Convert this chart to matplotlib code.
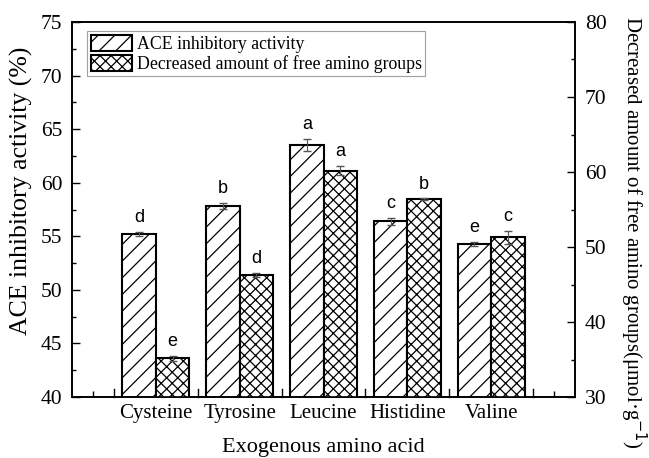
import numpy as np
import matplotlib.pyplot as plt
from matplotlib.ticker import MultipleLocator, FixedLocator

amino = ["Cysteine", "Tyrosine", "Leucine", "Histidine", "Valine"]
ace = [55.2, 57.85, 63.5, 56.4, 54.3]
ace_err = [0.2, 0.3, 0.55, 0.3, 0.2]
ace_letters = ["d", "b", "a", "c", "e"]
free_amino = [35.15, 46.25, 60.2, 56.4, 51.3]
free_err = [0.35, 0.3, 0.65, 0.1, 0.9]
free_letters = ["e", "d", "a", "b", "c"]

plt.rcParams["font.family"] = "Liberation Serif"
plt.rcParams["hatch.linewidth"] = 0.9

fig = plt.figure(figsize=(6.49, 4.58), dpi=100)
ax = fig.add_axes([0.111, 0.133, 0.775, 0.819])
ax2 = ax.twinx()

x = np.arange(1, len(amino) + 1)
w = 0.4
ekw = dict(ecolor="#555555", elinewidth=0.8, capsize=3)
b1 = ax.bar(x - w / 2, ace, w, yerr=ace_err, color="white", edgecolor="black",
            linewidth=1.5, hatch="//", error_kw=ekw, zorder=2)
b2 = ax2.bar(x + w / 2, free_amino, w, yerr=free_err, color="white", edgecolor="black",
             linewidth=1.5, hatch="xxx", error_kw=ekw, zorder=2)

for xi, v, e, t in zip(x, ace, ace_err, ace_letters):
    ax.text(xi - w / 2, v + e + 0.55, t, ha="center", va="bottom", fontsize=13,
            family="Liberation Sans")
for xi, v, e, t in zip(x, free_amino, free_err, free_letters):
    ax2.text(xi + w / 2, v + e + 0.75, t, ha="center", va="bottom", fontsize=13,
             family="Liberation Sans")

ax.set_xlim(0, 6)
ax.set_ylim(40, 75)
ax2.set_ylim(30, 80)
ax.set_xticks(x)
ax.set_xticklabels(amino)
ax.xaxis.set_minor_locator(FixedLocator([v for v in np.arange(0.25, 6.0, 0.25) if v % 1 != 0.5]))
ax.yaxis.set_major_locator(MultipleLocator(5))
ax.yaxis.set_minor_locator(MultipleLocator(2.5))
ax2.yaxis.set_major_locator(MultipleLocator(10))
ax2.yaxis.set_minor_locator(MultipleLocator(5))

# group boundary ticks (longer), labels at group centers
ax.tick_params(axis="x", which="major", length=0, labelsize=15, pad=5)
ax.tick_params(axis="x", which="minor", direction="in", length=4, width=1)
for xb in np.arange(0.5, 6.0, 1.0):
    ax.plot([xb, xb], [40, 40.75], color="black", lw=1, clip_on=False, zorder=1)
ax.tick_params(axis="y", which="major", direction="in", length=6, width=1, labelsize=15.5, pad=7)
ax.tick_params(axis="y", which="minor", direction="in", length=3, width=1)
ax2.tick_params(axis="y", which="major", direction="in", length=6, width=1, labelsize=15.5, pad=7)
ax2.tick_params(axis="y", which="minor", direction="in", length=3, width=1)

for a in (ax, ax2):
    for s in a.spines.values():
        s.set_linewidth(1.2)

ax.set_ylabel("ACE inhibitory activity (%)", fontsize=18.5)
ax.yaxis.label.set_va("center")
ax.yaxis.set_label_coords(-0.101, 0.55)
ax2.set_ylabel("Decreased amount of free amino groups(μmol·g$^{-1}$)", fontsize=15,
               rotation=270)
ax2.yaxis.label.set_va("center")
ax2.yaxis.set_label_coords(1.115, 0.44)
ax.set_xlabel("Exogenous amino acid", fontsize=16, labelpad=11)

leg = ax.legend([b1, b2], ["ACE inhibitory activity", "Decreased amount of free amino groups"],
                loc="upper left", bbox_to_anchor=(0.03, 0.975), fontsize=12.8, frameon=True,
                fancybox=False, edgecolor="#888888", handlelength=2.3, handleheight=1.0,
                handletextpad=0.3, borderpad=0.2, labelspacing=0.1, borderaxespad=0)
leg.get_frame().set_linewidth(0.8)

fig.savefig("out.png", dpi=100)
